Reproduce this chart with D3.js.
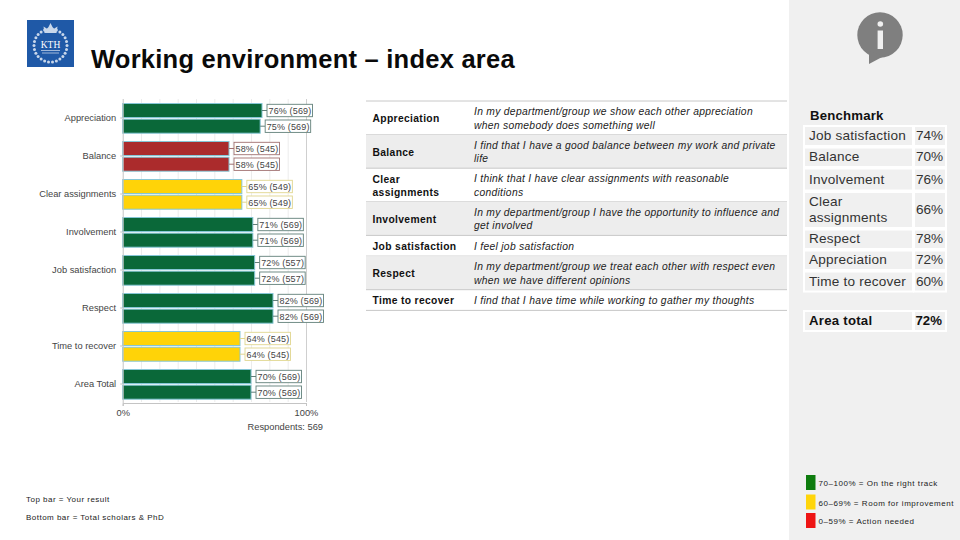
<!DOCTYPE html>
<html><head><meta charset="utf-8">
<script src="https://cdn.jsdelivr.net/npm/d3@7/dist/d3.min.js"></script>
<style>
html,body{margin:0;padding:0;background:#fff;overflow:hidden}
text{font-family:"Liberation Sans",Arial,sans-serif}
</style></head><body><svg id="c" width="960" height="540"></svg>
<script>
const categories=["Appreciation","Balance","Clear assignments","Involvement","Job satisfaction","Respect","Time to recover","Area Total"];
const topValues=[76,58,65,71,72,82,64,70];
const bottomValues=[75,58,65,71,72,82,64,70];
const respondents=[569,545,549,569,557,569,545,569];
const xTickLabels=["0%","100%"];
const statusColors={green:"#0a6839",red:"#ab2b2c",yellow:"#ffd308"};
const statusBorders={green:"#62807a",red:"#a07070",yellow:"#e0d68e"};
const status=["green","red","yellow","green","green","green","yellow","green"];

const tableTerms=[["Appreciation"],["Balance"],["Clear","assignments"],["Involvement"],["Job satisfaction"],["Respect"],["Time to recover"]];
const tableTexts=[
 ["In my department/group we show each other appreciation","when somebody does something well"],
 ["I find that I have a good balance between my work and private","life"],
 ["I think that I have clear assignments with reasonable","conditions"],
 ["In my department/group I have the opportunity to influence and","get involved"],
 ["I feel job satisfaction"],
 ["In my department/group we treat each other with respect even","when we have different opinions"],
 ["I find that I have time while working to gather my thoughts"]];

const benchNames=[["Job satisfaction"],["Balance"],["Involvement"],["Clear","assignments"],["Respect"],["Appreciation"],["Time to recover"]];
const benchValues=["74%","70%","76%","66%","78%","72%","60%"];
const areaName="Area total", areaValue="72%";
const legendItems=["70–100% = On the right track","60–69% = Room for improvement","0–59% = Action needed"];
const legendColors=["#0e7c0e","#ffd50a","#ee1414"];
const footnotes=["Top bar = Your result","Bottom bar = Total scholars & PhD"];

const svg=d3.select("#c");
svg.append("rect").attr("width",960).attr("height",540).attr("fill","#fff");

// side panel
svg.append("rect").attr("x",789).attr("y",0).attr("width",171).attr("height",540).attr("fill","#f0f0f0");

// title
svg.append("text").attr("x",91).attr("y",68).attr("font-size",25.5).attr("font-weight","bold").attr("fill","#0a0a0a")
  .attr("letter-spacing",0.24).text("Working environment – index area");

// logo
const logo=svg.append("g");
logo.append("rect").attr("x",27).attr("y",20).attr("width",47).attr("height",47).attr("fill","#1f59a7");
d3.range(0,26).forEach(i=>{
  const a=i/26*2*Math.PI;
  logo.append("circle").attr("cx",50.5+Math.cos(a)*16.5).attr("cy",45.5+Math.sin(a)*16.5).attr("r",1.5).attr("fill","#c8d7eb");
});
logo.append("path").attr("d","M44.5 33 L43.5 26.5 L47.5 29 L50.5 23 L53.5 29 L57.5 26.5 L56.5 33 Z").attr("fill","#c8d7eb");
logo.append("text").attr("x",50.5).attr("y",48).attr("text-anchor","middle").attr("font-size",9.5)
  .style("font-family","'Liberation Serif',serif").attr("fill","#fff").text("KTH");
logo.append("rect").attr("x",41).attr("y",50).attr("width",19).attr("height",1).attr("fill","#9fb8da");
logo.append("rect").attr("x",42).attr("y",52.5).attr("width",17).attr("height",1).attr("fill","#9fb8da");

// info icon
const ic=svg.append("g");
ic.append("circle").attr("cx",880).attr("cy",35).attr("r",22.7).attr("fill","#7f7f7f");
ic.append("path").attr("d","M869 51 L869 64 L884 56 Z").attr("fill","#7f7f7f");
ic.append("circle").attr("cx",880.3).attr("cy",24).attr("r",2.8).attr("fill","#f0f0f0");
ic.append("rect").attr("x",877.6).attr("y",30.5).attr("width",5.4).attr("height",18.5).attr("fill","#f0f0f0");

// chart
const x=d3.scaleLinear().domain([0,100]).range([122.7,306]);
const y=d3.scaleBand().domain(categories).range([99,403]).paddingInner(0).paddingOuter(0);
const chart=svg.append("g");

// grid from an axis
const grid=chart.append("g").attr("transform","translate(0,99)")
  .call(d3.axisBottom(x).tickValues(d3.range(10,101,10)).tickSize(303).tickFormat(""));
grid.select(".domain").remove();
grid.selectAll("line").attr("stroke",d=>d===100?"#cfcfcf":"#ececec");

const barH=14;
const groups=chart.selectAll("g.bars").data(categories).enter().append("g").attr("class","bars")
  .attr("transform",d=>`translate(0,${y(d)})`);

[[topValues,4.5],[bottomValues,20.2]].forEach(([vals,off])=>{
  groups.append("rect").attr("x",x(0)).attr("y",off)
    .attr("width",(d,i)=>x(vals[i])-x(0)).attr("height",barH)
    .attr("fill",(d,i)=>statusColors[status[i]])
    .attr("stroke","#86c6d6").attr("stroke-width",1);
  groups.append("line").attr("x1",(d,i)=>x(vals[i])).attr("x2",(d,i)=>x(vals[i])+5)
    .attr("y1",off+barH/2).attr("y2",off+barH/2).attr("stroke",(d,i)=>statusBorders[status[i]]);
  groups.append("rect").attr("x",(d,i)=>x(vals[i])+5).attr("y",off+0.8)
    .attr("width",45.5).attr("height",12.4).attr("fill","#fff")
    .attr("stroke",(d,i)=>statusBorders[status[i]]).attr("stroke-width",0.9);
  groups.append("text").attr("x",(d,i)=>x(vals[i])+6.5).attr("y",off+10.5)
    .attr("font-size",9).attr("letter-spacing",0.15).attr("fill","#444")
    .text((d,i)=>`${vals[i]}% (${respondents[i]})`);
});

// left axis
const left=chart.append("g").attr("transform",`translate(${x(0)},0)`)
  .call(d3.axisLeft(y).tickSize(2.5).tickPadding(4));
left.select(".domain").attr("stroke","#c4c4c4").attr("d","M0.5,99V403");
left.selectAll("line").attr("stroke","#c4c4c4");
left.selectAll("text").attr("font-size",9.3).attr("fill","#444").style("font-family","'Liberation Sans',Arial,sans-serif");

// bottom axis
const bottom=chart.append("g").attr("transform","translate(0,403)")
  .call(d3.axisBottom(x).tickValues([0,100]).tickSize(3).tickPadding(3.5).tickFormat((d,i)=>xTickLabels[i]));
bottom.select(".domain").attr("stroke","#c4c4c4");
bottom.selectAll("line").attr("stroke","#c4c4c4");
bottom.selectAll("text").attr("font-size",9.3).attr("fill","#444").style("font-family","'Liberation Sans',Arial,sans-serif");
chart.append("text").attr("x",323).attr("y",430).attr("text-anchor","end").attr("font-size",9.3).attr("fill","#444").text("Respondents: 569");

// definitions table
let ty=101;
const tbl=svg.append("g");
tbl.append("line").attr("x1",366).attr("x2",787).attr("y1",ty).attr("y2",ty).attr("stroke","#c8c8c8");
tableTexts.forEach((lines,i)=>{
  const h=lines.length===2?33.6:20.7;
  if(i%2===1) tbl.append("rect").attr("x",366).attr("y",ty).attr("width",421).attr("height",h).attr("fill","#ededed");
  const cy=ty+h/2;
  const terms=tableTerms[i];
  terms.forEach((t,j)=>tbl.append("text").attr("x",372.5).attr("y",cy+4.1+(j-(terms.length-1)/2)*13.2)
    .attr("font-size",10.3).attr("font-weight","bold").attr("letter-spacing",0.35).attr("fill","#111").text(t));
  lines.forEach((t,j)=>tbl.append("text").attr("x",474).attr("y",cy+4.1+(j-(lines.length-1)/2)*13.4)
    .attr("font-size",10.3).attr("font-style","italic").attr("letter-spacing",0.3).attr("fill","#222").text(t));
  ty+=h;
  tbl.append("line").attr("x1",366).attr("x2",787).attr("y1",ty).attr("y2",ty).attr("stroke","#c8c8c8");
});

// benchmark table
const bench=svg.append("g");
bench.append("text").attr("x",810).attr("y",119.5).attr("font-size",13.2).attr("font-weight","bold").attr("fill","#111").attr("letter-spacing",0.2).text("Benchmark");
function row(y0,h,names,val,bold){
  bench.append("rect").attr("x",804).attr("y",y0).attr("width",109).attr("height",h).attr("fill","#f0f0f0").attr("stroke","#fff").attr("stroke-width",2);
  bench.append("rect").attr("x",914).attr("y",y0).attr("width",32).attr("height",h).attr("fill","#f0f0f0").attr("stroke","#fff").attr("stroke-width",2);
  names.forEach((t,j)=>bench.append("text").attr("x",809).attr("y",y0+h/2+4.2+(j-(names.length-1)/2)*15.5)
    .attr("font-size",bold?13.2:13.6).attr("font-weight",bold?"bold":"normal").attr("letter-spacing",bold?0.25:0.2).attr("fill",bold?"#111":"#333").text(t));
  bench.append("text").attr("x",bold?915.5:916).attr("y",y0+h/2+4.2).attr("font-size",bold?13.2:13.6)
    .attr("font-weight",bold?"bold":"normal").attr("fill",bold?"#111":"#333").text(val);
}
const benchRowHeights=[20,19.5,22,36,19.5,19.5,20];
let by=126;
benchNames.forEach((n,i)=>{const h=benchRowHeights[i];row(by,h,n,benchValues[i],false);by+=h+1.5;});
row(311,20,[areaName],areaValue,true);

// legend
const legendY=[475,494.5,513];
const lg=svg.append("g");
legendItems.forEach((t,i)=>{
  lg.append("rect").attr("x",806).attr("y",legendY[i]).attr("width",9.5).attr("height",15).attr("fill",legendColors[i]);
  lg.append("text").attr("x",818.5).attr("y",legendY[i]+11).attr("font-size",8).attr("letter-spacing",0.54).attr("fill","#222").text(t);
});

// footnotes
footnotes.forEach((t,i)=>svg.append("text").attr("x",26).attr("y",502+i*18).attr("font-size",8).attr("letter-spacing",0.48).attr("fill","#222").text(t));
</script></body></html>
